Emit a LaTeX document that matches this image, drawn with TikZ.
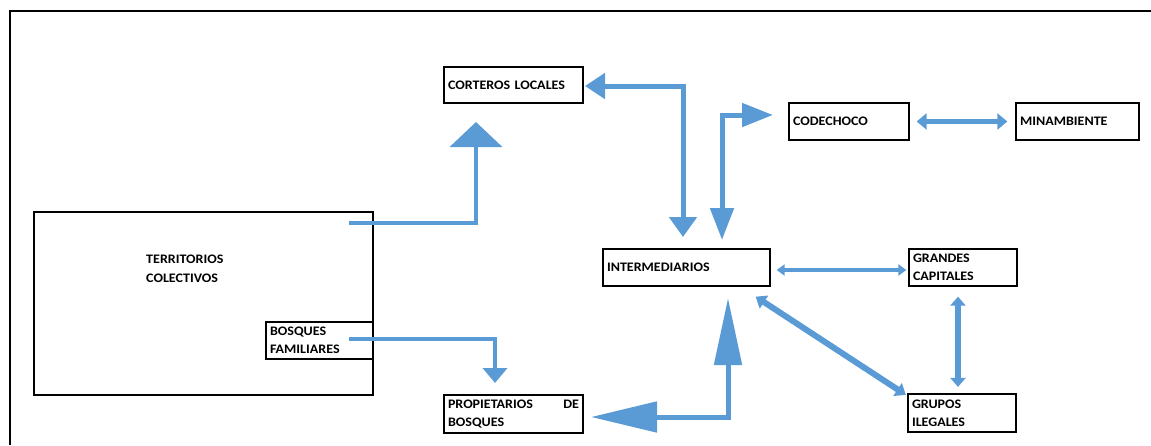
\documentclass[tikz,border=0pt]{standalone}
\usepackage{fontspec}
\setmainfont{Carlito}[FakeStretch=1.08]
\usetikzlibrary{arrows.meta}
\definecolor{arrblue}{HTML}{5B9BD5}
\tikzset{
  box/.style={draw=black, line width=1.3pt, inner xsep=4pt, inner ysep=0pt, align=left,
    font=\bfseries\fontsize{13}{18}\selectfont},
  conn/.style={draw=arrblue, line join=miter},
}
\begin{document}
\begin{tikzpicture}[x=1pt,y=-1pt]
\useasboundingbox (0,0) rectangle (1151,445);
% outer frame (partially visible)
\draw[line width=2.5pt] (10,445) -- (10,11) -- (1151,11);

% nodes
\node[box, line width=2.4pt, minimum width=339pt, minimum height=183pt] (terr) at (203.5,303.5) {};
\node[anchor=west, inner sep=0pt, align=left, font=\bfseries\fontsize{13}{19}\selectfont] (terrtxt) at (146,268.5) {TERRITORIOS\\COLECTIVOS};
\node[box, line width=2pt, fill=white, text width=99pt, minimum height=37pt] (bosq) at (319.5,340.5) {BOSQUES\\FAMILIARES};
\node[box, text width=131pt, minimum height=36pt] (cort) at (513.5,85) {CORTEROS LOCALES};
\node[box, text width=112pt, minimum height=37pt] (code) at (849,121.5) {CODECHOCO};
\node[box, text width=115pt, minimum height=37pt] (mina) at (1077.5,121.5) {MINAMBIENTE};
\node[box, text width=159pt, minimum height=37pt] (inter) at (686.5,267.5) {INTERMEDIARIOS};
\node[box, text width=100pt, minimum height=37pt] (gran) at (963,267.5) {GRANDES\\CAPITALES};
\node[box, text width=131pt, minimum height=38pt] (prop) at (513.5,414) {PROPIETARIOS\hfill DE\\BOSQUES};
\node[box, line width=2.2pt, text width=100pt, minimum height=38pt] (grup) at (962,413) {GRUPOS\\ILEGALES};

% connector end points
\coordinate (t1) at (349,223);
\coordinate (t2) at (476,122);
\coordinate (c1) at (585,86);
\coordinate (c2) at (683,237);
\coordinate (d1) at (722,240);
\coordinate (d2) at (773,115);
\coordinate (b1) at (349,339);
\coordinate (b2) at (495,383);
\coordinate (p1) at (591,417);
\coordinate (p2) at (728,298);

% connectors
\draw[conn, line width=4pt, -{Triangle[length=25pt,width=52pt]}] (t1) -| (t2);
\draw[conn, line width=5pt, {Triangle[length=20pt,width=25pt]}-{Triangle[length=20pt,width=27pt]}] (c1) -| (c2);
\draw[conn, line width=5pt, {Triangle[length=32pt,width=23pt]}-{Triangle[length=31pt,width=23pt]}] (d1) |- (d2);
\draw[conn, line width=5pt, {Triangle[length=10pt,width=16pt]}-{Triangle[length=10pt,width=16pt]}] ([xshift=7pt]code.east) -- ([xshift=-8pt]mina.west);
\draw[conn, line width=3.5pt, {Triangle[length=8pt,width=11pt]}-{Triangle[length=8pt,width=11pt]}] ([xshift=6pt,yshift=-2.5pt]inter.east) -- ([xshift=-2pt,yshift=-2.5pt]gran.west);
\draw[conn, line width=6pt, {Triangle[length=9pt,width=15pt]}-{Triangle[length=9pt,width=15pt]}] ([xshift=-5pt,yshift=-10pt]gran.south) -- ([xshift=-4pt,yshift=6pt]grup.north);
\draw[conn, line width=6pt, {Triangle[length=10pt,width=15pt]}-{Triangle[length=10pt,width=15pt]}] ([xshift=-15pt,yshift=-10pt]inter.south east) -- ([xshift=-1pt,yshift=-2pt]grup.north west);
\draw[conn, line width=4pt, -{Triangle[length=15pt,width=24pt]}] (b1) -| (b2);
\draw[conn, line width=5pt, {Triangle[length=66pt,width=30pt]}-{Triangle[length=67pt,width=27pt]}] (p1) -| (p2);
\end{tikzpicture}
\end{document}
